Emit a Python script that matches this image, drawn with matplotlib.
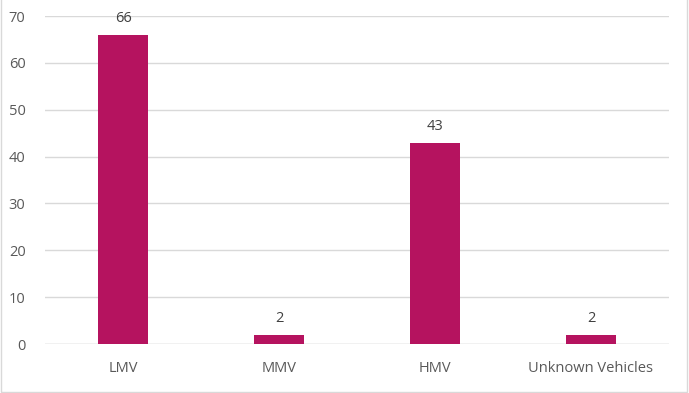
import matplotlib
matplotlib.use("Agg")
import matplotlib.pyplot as plt
from matplotlib.patches import Rectangle

categories = ["LMV", "MMV", "HMV", "Unknown Vehicles"]
values = [66, 2, 43, 2]
yticks = [0, 10, 20, 30, 40, 50, 60, 70]

plt.rcParams['font.family'] = ['Open Sans', 'DejaVu Sans']
txt = '#595959'
bar_color = '#B5135F'

fig = plt.figure(figsize=(6.89, 3.93), dpi=100)
ax = fig.add_axes([45/689, 49/393, 624/689, 328/393])
x = range(len(categories))
bars = ax.bar(x, values, width=0.32, color=bar_color, zorder=3)
for xi, v in zip(x, values):
    ax.annotate(str(v), (xi, v), xytext=(0, 6), textcoords='offset points',
                ha='center', va='bottom', fontsize=10.5, color='#404040')
ax.set_xlim(-0.5, len(categories) - 0.5)
ax.set_ylim(0, 70)
ax.set_yticks(yticks)
ax.set_xticks(list(x))
ax.set_xticklabels(categories)
ax.yaxis.grid(True, color='#D9D9D9', linewidth=1, zorder=0)
for s in ax.spines.values():
    s.set_visible(False)
ax.tick_params(axis='both', length=0, colors=txt, labelsize=10.5)
ax.tick_params(axis='x', pad=12)
ax.tick_params(axis='y', pad=14)
ax.axhline(0, color='#D9D9D9', linewidth=1, zorder=2)

fig.patches.append(Rectangle((1/689, 1/393), 686/689, 400/393, transform=fig.transFigure,
                             fill=False, edgecolor='#D9D9D9', linewidth=1))
fig.savefig("out.png", dpi=100)
